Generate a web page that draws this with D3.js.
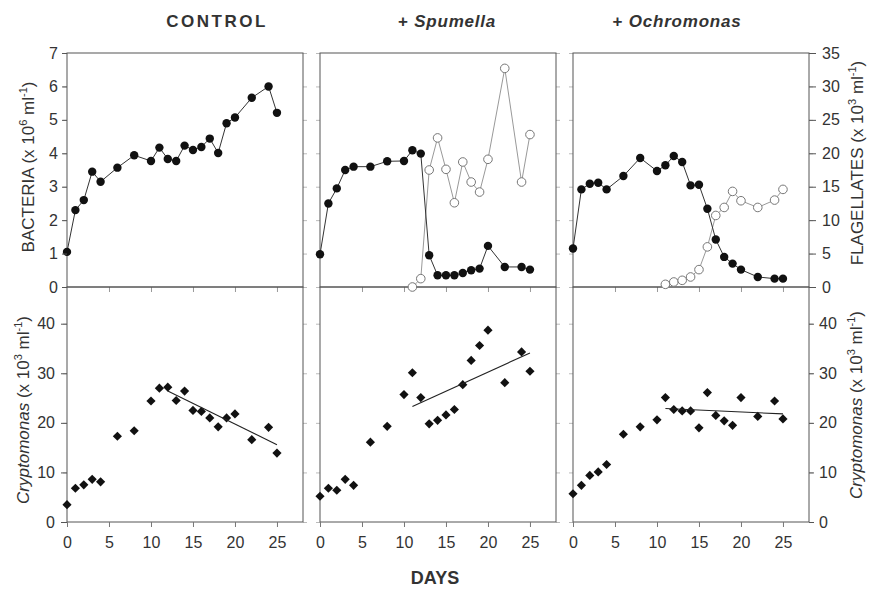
<!DOCTYPE html>
<html>
<head>
<meta charset="utf-8">
<script src="https://cdn.jsdelivr.net/npm/d3@7"></script>
<style>
  body { margin: 0; background: #fff; }
  text { font-family: "Liberation Sans", Arial, sans-serif; fill: #333; }
</style>
</head>
<body>
<svg id="fig" width="878" height="592"></svg>
<script>
// days sampled
var days = [0, 1, 2, 3, 4, 6, 8, 10, 11, 12, 13, 14, 15, 16, 17, 18, 19, 20, 22, 24, 25];
var flagDays = [11, 12, 13, 14, 15, 16, 17, 18, 19, 20, 22, 24, 25];

// bacteria (x 10^6 ml-1)
var ctrlBact = [1.05, 2.3, 2.6, 3.45, 3.15, 3.57, 3.94, 3.77, 4.17, 3.83, 3.77, 4.23, 4.1, 4.19, 4.44, 4.01, 4.9, 5.07, 5.66, 6.0, 5.21];
var spumBact = [0.98, 2.5, 2.95, 3.5, 3.6, 3.6, 3.76, 3.77, 4.09, 3.99, 0.95, 0.35, 0.35, 0.35, 0.42, 0.5, 0.55, 1.23, 0.6, 0.6, 0.52];
var ochrBact = [1.15, 2.92, 3.09, 3.12, 2.92, 3.32, 3.86, 3.47, 3.64, 3.92, 3.74, 3.04, 3.06, 2.34, 1.42, 0.9, 0.7, 0.52, 0.3, 0.25, 0.25];

// flagellates (x 10^3 ml-1)
var spumFlag = [0, 1.25, 17.5, 22.3, 17.6, 12.6, 18.7, 15.7, 14.2, 19.1, 32.7, 15.7, 22.8];
var ochrFlag = [0.4, 0.75, 1.0, 1.5, 2.6, 6.0, 10.7, 11.9, 14.3, 12.9, 11.9, 13.0, 14.6];

// Cryptomonas (x 10^3 ml-1)
var ctrlCrypto = [3.5, 6.8, 7.5, 8.6, 8.1, 17.3, 18.4, 24.4, 27.0, 27.2, 24.5, 26.4, 22.5, 22.3, 21.0, 19.2, 21.0, 21.8, 16.6, 19.1, 13.9];
var spumCrypto = [5.2, 6.8, 6.4, 8.6, 7.4, 16.1, 19.3, 25.7, 30.1, 25.1, 19.8, 20.5, 21.6, 22.7, 27.7, 32.6, 35.6, 38.7, 28.1, 34.3, 30.4];
var ochrCrypto = [5.7, 7.4, 9.4, 10.1, 11.6, 17.7, 19.2, 20.6, 25.1, 22.7, 22.4, 22.4, 19.0, 26.1, 21.5, 20.4, 19.5, 25.1, 21.3, 24.4, 20.8];

// regression lines [day, value] start and end
var ctrlFit = [[12, 26.4], [25, 15.6]];
var spumFit = [[11, 23.3], [25, 34.1]];
var ochrFit = [[11, 22.9], [25, 21.8]];

var titles = ["CONTROL", "Spumella", "Ochromonas"];
var bactTicks = [0, 1, 2, 3, 4, 5, 6, 7];
var flagTicks = [0, 5, 10, 15, 20, 25, 30, 35];
var cryptoTicks = [0, 10, 20, 30, 40];
var dayTicks = [0, 5, 10, 15, 20, 25];

var svg = d3.select('#fig');

var panelX = [67, 320, 573], panelW = 236;
var titleX = [217, 447, 677];
var topY = 53, midY = 287, botY = 522;

var yB = d3.scaleLinear().domain([0, 7]).range([midY, topY]);
var yF = d3.scaleLinear().domain([0, 35]).range([midY, topY]);
var yC = d3.scaleLinear().domain([0, 47.4]).range([botY, midY]);

var panels = [
  { bact: ctrlBact, flag: null, crypto: ctrlCrypto, fit: ctrlFit },
  { bact: spumBact, flag: spumFlag, crypto: spumCrypto, fit: spumFit },
  { bact: ochrBact, flag: ochrFlag, crypto: ochrCrypto, fit: ochrFit }
];

function styleAxis(g, col) {
  g.select('.domain').remove();
  g.selectAll('line').attr('stroke', col).attr('stroke-width', 1);
  g.selectAll('text').style('font-size', '16px').attr('fill', '#333');
}

panels.forEach(function(p, i) {
  var x0 = panelX[i];
  var x = d3.scaleLinear().domain([0, 28.1]).range([x0, x0 + panelW]);
  var g = svg.append('g');

  // faint inner ticks
  g.append('g').attr('transform', 'translate(' + (x0 + panelW) + ',0)')
    .call(d3.axisLeft(yB).tickValues(bactTicks).tickSize(-4).tickFormat(''))
    .call(styleAxis, '#bbb');
  g.append('g').attr('transform', 'translate(' + (x0 + panelW) + ',0)')
    .call(d3.axisLeft(yC).tickValues(cryptoTicks).tickSize(-4).tickFormat(''))
    .call(styleAxis, '#bbb');
  g.append('g').attr('transform', 'translate(' + x0 + ',0)')
    .call(d3.axisRight(yB).tickValues(bactTicks).tickSize(-4).tickFormat(''))
    .call(styleAxis, '#bbb');
  g.append('g').attr('transform', 'translate(' + x0 + ',0)')
    .call(d3.axisRight(yC).tickValues(cryptoTicks).tickSize(-4).tickFormat(''))
    .call(styleAxis, '#bbb');
  g.append('g').attr('transform', 'translate(0,' + midY + ')')
    .call(d3.axisBottom(x).tickValues(dayTicks.slice(1)).tickSize(5).tickFormat(''))
    .call(styleAxis, '#999');

  // frames
  g.append('rect').attr('x', x0).attr('y', topY).attr('width', panelW).attr('height', midY - topY)
    .attr('fill', 'none').attr('stroke', '#555').attr('stroke-width', 1);
  g.append('rect').attr('x', x0).attr('y', midY).attr('width', panelW).attr('height', botY - midY)
    .attr('fill', 'none').attr('stroke', '#555').attr('stroke-width', 1);

  // x axis on bottom
  g.append('g').attr('transform', 'translate(0,' + botY + ')')
    .call(d3.axisBottom(x).tickValues(dayTicks).tickSize(5).tickPadding(10))
    .call(styleAxis, '#777');

  // titles
  var t = g.append('text').attr('x', titleX[i]).attr('y', 27)
    .attr('text-anchor', 'middle').style('font-size', '17px').style('font-weight', 'bold')
    .attr('fill', '#222');
  if (i === 0) {
    t.style('letter-spacing', '2.5px').text(titles[i]);
  } else {
    t.style('letter-spacing', '0.8px');
    t.append('tspan').text('+ ');
    t.append('tspan').style('font-style', 'italic').text(titles[i]);
  }

  // flagellates (open circles)
  if (p.flag) {
    var fline = d3.line()
      .x(function(d, k) { return x(flagDays[k]); })
      .y(function(d) { return yF(d); });
    g.append('path').datum(p.flag).attr('d', fline)
      .attr('fill', 'none').attr('stroke', '#999').attr('stroke-width', 1);
  }

  // bacteria (filled circles)
  var bline = d3.line()
    .x(function(d, k) { return x(days[k]); })
    .y(function(d) { return yB(d); });
  g.append('path').datum(p.bact).attr('d', bline)
    .attr('fill', 'none').attr('stroke', '#333').attr('stroke-width', 1);

  if (p.flag) {
    g.selectAll('circle.flag')
      .data(p.flag)
      .enter()
      .append('circle')
      .attr('class', 'flag')
      .attr('cx', function(d, k) { return x(flagDays[k]); })
      .attr('cy', function(d) { return yF(d); })
      .attr('r', 4.3)
      .attr('fill', '#fff')
      .attr('stroke', '#777')
      .attr('stroke-width', 1);
  }

  g.selectAll('circle.bact')
    .data(p.bact)
    .enter()
    .append('circle')
    .attr('class', 'bact')
    .attr('cx', function(d, k) { return x(days[k]); })
    .attr('cy', function(d) { return yB(d); })
    .attr('r', 4.2)
    .attr('fill', '#111');

  // Cryptomonas diamonds
  g.selectAll('path.crypto')
    .data(p.crypto)
    .enter()
    .append('path')
    .attr('class', 'crypto')
    .attr('d', d3.symbol().type(d3.symbolSquare).size(42))
    .attr('transform', function(d, k) {
      return 'translate(' + x(days[k]) + ',' + yC(d) + ') rotate(45)';
    })
    .attr('fill', '#111');

  g.append('line')
    .attr('x1', x(p.fit[0][0])).attr('y1', yC(p.fit[0][1]))
    .attr('x2', x(p.fit[1][0])).attr('y2', yC(p.fit[1][1]))
    .attr('stroke', '#222').attr('stroke-width', 1.1);
});

// labelled y axes
svg.append('g').attr('transform', 'translate(' + panelX[0] + ',0)')
  .call(d3.axisLeft(yB).tickValues(bactTicks).tickSize(5).tickPadding(4).tickFormat(d3.format('d')))
  .call(styleAxis, '#555');
svg.append('g').attr('transform', 'translate(' + panelX[0] + ',0)')
  .call(d3.axisLeft(yC).tickValues(cryptoTicks).tickSize(6).tickPadding(6))
  .call(styleAxis, '#555');
svg.append('g').attr('transform', 'translate(' + (panelX[2] + panelW) + ',0)')
  .call(d3.axisRight(yF).tickValues(flagTicks).tickSize(7).tickPadding(6))
  .call(styleAxis, '#555');
svg.append('g').attr('transform', 'translate(' + (panelX[2] + panelW) + ',0)')
  .call(d3.axisRight(yC).tickValues(cryptoTicks).tickSize(5).tickPadding(5))
  .call(styleAxis, '#555');

// rotated axis titles
function vlabel(cx, cy, name, italic, exp) {
  var t = svg.append('text')
    .attr('transform', 'translate(' + cx + ',' + cy + ') rotate(-90)')
    .attr('text-anchor', 'middle')
    .attr('dy', '0.35em')
    .style('font-size', '17px')
    .attr('fill', '#222');
  t.append('tspan').style('font-style', italic ? 'italic' : 'normal').text(name);
  t.append('tspan').text(' (x 10');
  t.append('tspan').attr('dy', -7).style('font-size', '11px').text(exp);
  t.append('tspan').attr('dy', 7).text(' ml');
  t.append('tspan').attr('dy', -7).style('font-size', '11px').text('-1');
  t.append('tspan').attr('dy', 7).text(')');
}
vlabel(28, 167, 'BACTERIA', false, '6');
vlabel(23, 410, 'Cryptomonas', true, '3');
vlabel(857, 163, 'FLAGELLATES', false, '3');
vlabel(856, 405, 'Cryptomonas', true, '3');

svg.append('text').attr('x', 435).attr('y', 584)
  .attr('text-anchor', 'middle')
  .style('font-size', '18px').style('font-weight', 'bold')
  .attr('fill', '#222')
  .text('DAYS');
</script>
</body>
</html>
